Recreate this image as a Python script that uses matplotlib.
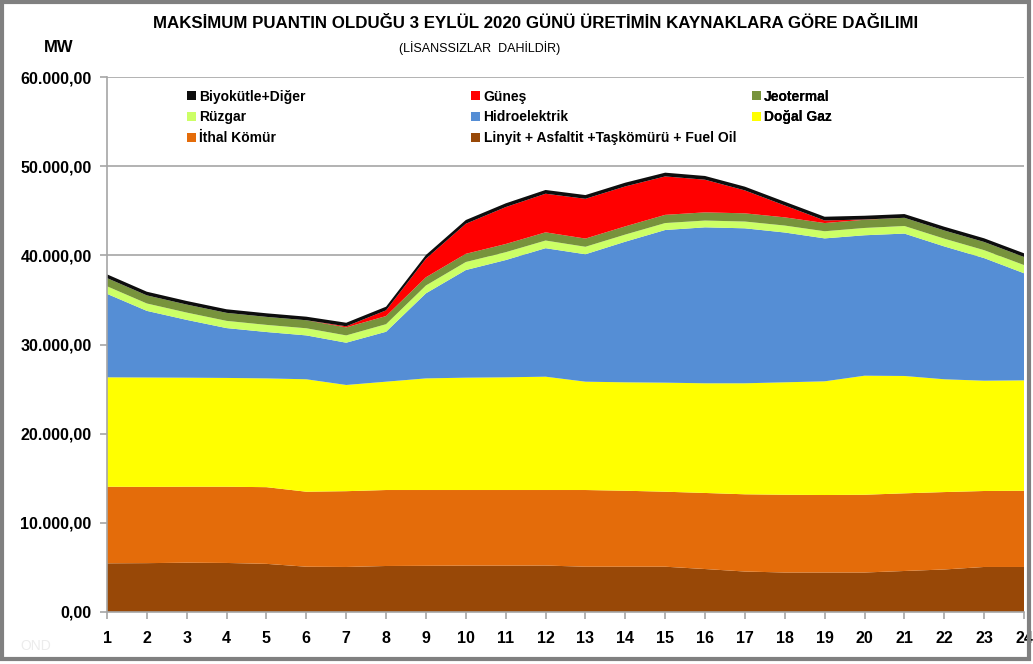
import matplotlib
matplotlib.use("Agg")
import matplotlib.pyplot as plt
from matplotlib.patches import Rectangle
from matplotlib.ticker import FuncFormatter, MultipleLocator

plt.rcParams['font.family'] = ['Liberation Sans Narrow', 'Liberation Sans', 'DejaVu Sans']

# =========================
# VERİ (MW, saatlik)
# =========================
saatler = list(range(1, 25))

linyit = [5460, 5480, 5530, 5500, 5400, 5080, 5050, 5160, 5180, 5200, 5200, 5210,
          5080, 5080, 5080, 4820, 4540, 4430, 4430, 4430, 4600, 4770, 5050, 5050]
ithal_komur = [8590, 8550, 8520, 8550, 8600, 8410, 8500, 8520, 8500, 8480, 8480, 8470,
               8600, 8520, 8410, 8530, 8660, 8720, 8690, 8720, 8710, 8680, 8520, 8550]
dogal_gaz = [12270, 12270, 12230, 12200, 12200, 12610, 11910, 12150, 12520, 12600, 12640, 12710,
             12150, 12160, 12230, 12300, 12450, 12610, 12750, 13350, 13160, 12650, 12370, 12380]
hidro = [9360, 7470, 6480, 5590, 5200, 4920, 4740, 5600, 9540, 12070, 13150, 14410,
         14290, 15770, 17120, 17490, 17380, 16800, 16030, 15750, 15970, 14900, 13750, 12010]
ruzgar = [850, 830, 820, 810, 800, 800, 820, 850, 880, 900, 880, 860,
          840, 800, 780, 760, 760, 780, 800, 820, 850, 870, 890, 920]
jeotermal = [920, 910, 900, 900, 900, 900, 900, 910, 920, 920, 920, 920,
             920, 920, 920, 920, 920, 920, 920, 920, 920, 920, 920, 910]
gunes = [0, 0, 0, 0, 0, 0, 120, 640, 2080, 3370, 4140, 4330,
         4460, 4480, 4310, 3660, 2570, 1330, 290, 30, 0, 0, 0, 0]
biyokutle = [420, 410, 400, 400, 400, 400, 400, 410, 420, 420, 420, 420,
             420, 420, 420, 420, 420, 420, 420, 420, 420, 420, 410, 410]

etiketler = ["Linyit + Asfaltit +Taşkömürü + Fuel Oil", "İthal Kömür", "Doğal Gaz",
             "Hidroelektrik", "Rüzgar", "Jeotermal", "Güneş", "Biyokütle+Diğer"]
renkler = ["#984807", "#e46c0a", "#ffff00", "#558ed5", "#ccff66", "#77933c", "#ff0000", "#0d0d0d"]

# =========================
# ÇİZİM
# =========================
fig = plt.figure(figsize=(10.33, 6.64), dpi=100)
ax = fig.add_axes([107 / 1033, 52 / 664, 917 / 1033, 535 / 664])

katmanlar = ax.stackplot(saatler, linyit, ithal_komur, dogal_gaz, hidro, ruzgar,
                         jeotermal, gunes, biyokutle, colors=renkler, linewidth=0)

ax.set_xlim(1, 24)
ax.set_ylim(0, 60000)
ax.yaxis.set_major_locator(MultipleLocator(10000))
ax.set_xticks(saatler)


def tr_format(v, pos):
    s = f"{v:,.2f}"
    return s.replace(",", "X").replace(".", ",").replace("X", ".")


ax.yaxis.set_major_formatter(FuncFormatter(tr_format))
ax.grid(axis="y", color="#a6a6a6", linewidth=1.2)
ax.set_axisbelow(True)

for sp in ["top", "right"]:
    ax.spines[sp].set_visible(False)
for sp in ["left", "bottom"]:
    ax.spines[sp].set_color("#a6a6a6")
    ax.spines[sp].set_linewidth(1.2)

ax.tick_params(axis="both", colors="#a6a6a6", length=5, width=1.2, direction="out")
ax.tick_params(axis="y", labelcolor="black", labelsize=11.5, pad=6)
ax.tick_params(axis="x", labelcolor="black", labelsize=11.5, pad=9)
for lbl in ax.get_xticklabels() + ax.get_yticklabels():
    lbl.set_fontweight("bold")

# lejant: 3 sütun, Excel sırası
h = {e: p for e, p in zip(etiketler, katmanlar)}
sutunlar = [
    (["Biyokütle+Diğer", "Rüzgar", "İthal Kömür"], 0.081),
    (["Güneş", "Hidroelektrik", "Linyit + Asfaltit +Taşkömürü + Fuel Oil"], 0.391),
    (["Jeotermal", "Doğal Gaz"], 0.697),
]
for isimler, x0 in sutunlar:
    leg = ax.legend([h[i] for i in isimler], isimler, loc="upper left",
                    bbox_to_anchor=(x0, 0.987), frameon=False,
                    prop={"size": 10, "weight": "bold"},
                    handlelength=0.65, handleheight=0.65, handletextpad=0.25,
                    labelspacing=0.5, borderaxespad=0)
    ax.add_artist(leg)

# başlıklar
fig.text(536 / 1033, 1 - 23 / 664, "MAKSİMUM PUANTIN OLDUĞU 3 EYLÜL 2020 GÜNÜ ÜRETİMİN KAYNAKLARA GÖRE DAĞILIMI",
         ha="center", va="center", fontsize=12.2, fontweight="bold")
fig.text(59 / 1033, 1 - 47 / 664, "MW", ha="center", va="center", fontsize=12, fontweight="bold")
fig.text(480 / 1033, 1 - 48 / 664, "(LİSANSSIZLAR  DAHİLDİR)", ha="center", va="center", fontsize=9)
fig.text(20 / 1033, 1 - 646 / 664, "OND", ha="left", va="center", fontsize=10, color="#ececec")

# dış çerçeve
fig.patches.append(Rectangle((2 / 1033, 5 / 664), 1027 / 1033, 657 / 664,
                             transform=fig.transFigure, fill=False,
                             edgecolor="#808080", linewidth=3))

fig.savefig("out.png", dpi=100)
